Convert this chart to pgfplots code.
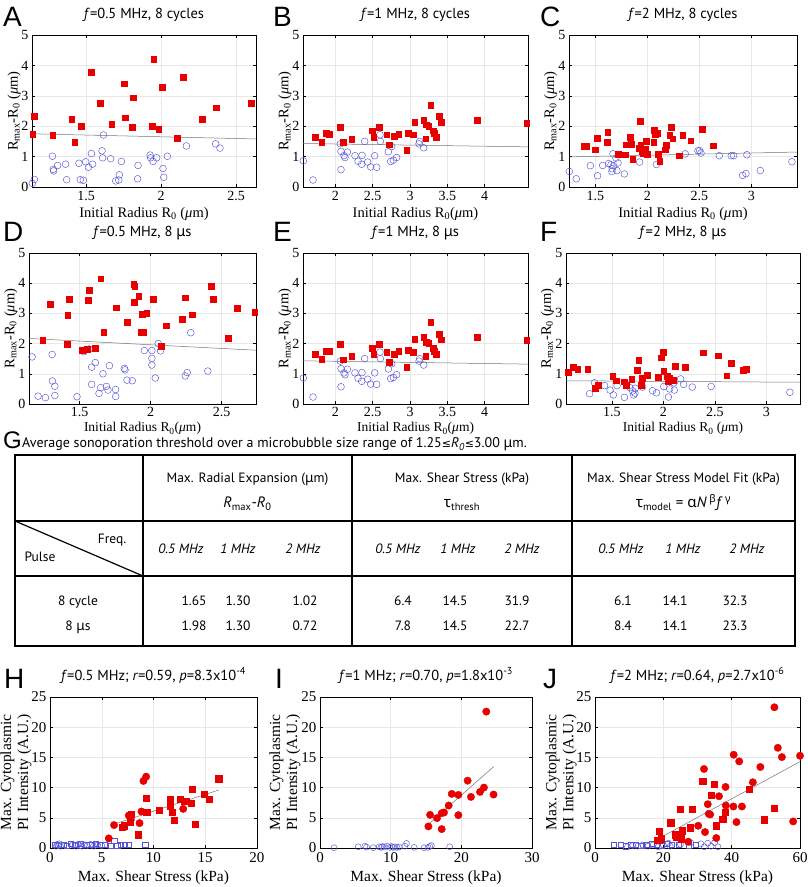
\documentclass[border=0pt]{standalone}
\usepackage{fontspec}
\setmainfont{Liberation Serif}
\newfontfamily\sansf{PT Sans}
\newfontfamily\grk{Noto Sans}
\newfontfamily\dejav{DejaVu Sans}
\newfontfamily\helv{Liberation Sans}
\usepackage{pgfplots}
\pgfplotsset{compat=1.18}
\definecolor{mred}{RGB}{232,0,0}
\definecolor{mblue}{RGB}{85,85,215}
\pgfplotsset{
 baseax/.style={scale only axis, anchor=south west, clip=false,
   axis line style={line width=0.5pt, black},
   grid=major, grid style={black!9, line width=0.4pt},
   tick align=inside, major tick length=3pt, tick style={line width=0.4pt, black},
   /pgf/number format/assume math mode=true,
   title style={at={(axis description cs:0.5,1)}, anchor=base, yshift=11pt},
 },
 topax/.style={baseax, ymin=0, ymax=5, ytick={0,1,2,3,4,5},
   ticklabel style={font=\fontsize{14}{14}\selectfont},
   xticklabel style={yshift=-1pt},
   label style={font=\fontsize{14.5}{14.5}\selectfont},
   title style={font=\sansf\fontsize{14.5}{15}\selectfont},
   ylabel={R\textsubscript{max}-R\textsubscript{0} (\textit{μ}m)},
   y label style={at={(axis description cs:-0.08,0.5)}, anchor=center},
   x label style={at={(axis description cs:0.5,-0.18)}, anchor=center},
 },
 midax/.style={topax, xticklabel style={yshift=1.5pt},
   x label style={at={(axis description cs:0.5,-0.163)}, anchor=center, font=\fontsize{13.5}{13.5}\selectfont}},
 botax/.style={baseax, ymin=0, ymax=25, ytick={0,5,10,15,20,25},
   ticklabel style={font=\fontsize{15}{15}\selectfont},
   xticklabel style={yshift=-1pt},
   label style={font=\fontsize{15.5}{17}\selectfont},
   title style={font=\sansf\fontsize{14.5}{15}\selectfont},
   ylabel={Max. Cytoplasmic\\PI Intensity (A.U.)},
   y label style={align=center, at={(axis description cs:-0.165,0.5)}, anchor=center},
   xlabel={Max. Shear Stress (kPa)},
   x label style={at={(axis description cs:0.5,-0.195)}, anchor=center},
 },
 redsq/.style={only marks, mark=square*, mark size=2.9pt, mark options={draw=mred, fill=mred}},
 bluec/.style={only marks, mark=o, mark size=3.4pt, mark options={draw=mblue, line width=0.45pt}},
 redc2/.style={only marks, mark=*, mark size=3.7pt, mark options={draw=mred, fill=mred}},
 redsq2/.style={only marks, mark=square*, mark size=3.1pt, mark options={draw=mred, fill=mred}},
 bluec2/.style={only marks, mark=o, mark size=3pt, mark options={draw=mblue, line width=0.45pt}},
 bluesq2/.style={only marks, mark=square, mark size=2.6pt, mark options={draw=mblue, line width=0.45pt}},
 fitl/.style={no marks, color=black!55, line width=0.5pt},
}
\begin{document}
\begin{tikzpicture}
\useasboundingbox (0pt,0pt) rectangle (807pt,887pt);
% ---------------- A
\begin{axis}[topax, at={(32pt,700pt)}, width=224pt, height=152pt, xmin=1.14, xmax=2.633, xtick={1.5,2,2.5},
  title={\textit{f}=0.5 MHz, 8 cycles}, xlabel={Initial Radius R\textsubscript{0} (\textit{μ}m)}]
\addplot[fitl] coordinates {(1.14,1.75)(2.633,1.58)};
\addplot[bluec] coordinates {(1.142,0.12)(1.156,0.25)(1.276,1.01)(1.282,0.58)(1.284,0.53)(1.311,0.71)(1.364,0.75)(1.371,0.24)(1.453,0.78)(1.462,0.24)(1.482,0.22)(1.498,0.83)(1.516,0.65)(1.536,1.10)(1.544,0.75)(1.616,1.71)(1.607,1.19)(1.611,0.96)(1.664,0.93)(1.698,0.20)(1.718,0.23)(1.722,0.40)(1.736,0.84)(1.847,0.71)(1.844,0.27)(1.927,1.05)(1.931,0.96)(1.947,0.84)(1.971,0.96)(2.013,0.61)(2.018,0.32)(2.042,1.01)(2.169,1.35)(2.364,1.42)(2.393,1.28)};
\addplot[redsq] coordinates {(1.145,1.73)(1.156,2.32)(1.278,1.70)(1.404,2.24)(1.424,1.47)(1.467,2.01)(1.536,3.77)(1.593,2.75)(1.671,2.06)(1.756,3.40)(1.762,2.28)(1.813,2.94)(1.809,1.96)(1.951,4.21)(1.942,2.01)(2.007,3.29)(1.984,1.91)(2.107,1.60)(2.147,3.60)(2.276,2.23)(2.369,2.61)(2.602,2.75)};
\end{axis}
% ---------------- B
\begin{axis}[topax, at={(303pt,700pt)}, width=225pt, height=152pt, xmin=1.567, xmax=4.58, xtick={2,2.5,3,3.5,4},
  title={\textit{f}=1 MHz, 8 cycles}, xlabel={Initial Radius R\textsubscript{0}(\textit{μ}m)}]
\addplot[fitl] coordinates {(1.567,1.43)(4.58,1.32)};
\addplot[bluec] coordinates {(1.571,0.86)(1.701,0.23)(2.067,1.42)(2.076,1.17)(2.076,0.57)(2.116,1.03)(2.129,0.97)(2.161,1.15)(2.263,1.03)(2.304,0.85)(2.357,1.04)(2.353,0.75)(2.393,1.50)(2.433,0.82)(2.473,0.66)(2.527,1.03)(2.554,0.65)(2.598,1.72)(2.603,1.50)(2.710,1.16)(2.754,1.33)(2.741,0.84)(2.777,0.88)(2.821,0.97)(3.121,1.42)(3.129,1.50)(3.183,1.29)};
\addplot[redsq] coordinates {(1.732,1.65)(1.817,1.48)(1.875,1.76)(1.920,1.74)(2.063,1.98)(2.107,1.47)(2.219,1.58)(2.496,1.85)(2.513,1.64)(2.585,1.98)(2.688,1.72)(2.723,1.39)(2.786,1.66)(2.848,1.74)(2.955,1.21)(2.973,1.77)(3.045,1.72)(3.063,2.14)(3.183,2.21)(3.210,1.59)(3.219,2.05)(3.250,2.01)(3.313,1.85)(3.326,1.76)(3.348,1.65)(3.277,2.70)(3.393,2.32)(3.415,2.13)(3.897,2.20)(4.563,2.10)};
\end{axis}
% ---------------- C
\begin{axis}[topax, at={(569pt,700pt)}, width=228pt, height=152pt, xmin=1.247, xmax=3.44, xtick={1.5,2,2.5,3},
  title={\textit{f}=2 MHz, 8 cycles}, xlabel={Initial Radius R\textsubscript{0} (\textit{μ}m)}]
\addplot[fitl] coordinates {(1.247,0.99)(3.44,1.15)};
\addplot[bluec] coordinates {(1.250,0.51)(1.317,0.27)(1.452,0.70)(1.522,0.37)(1.571,0.71)(1.628,0.77)(1.651,0.73)(1.663,0.60)(1.660,0.51)(1.676,0.70)(1.699,0.95)(1.718,0.79)(1.708,0.54)(1.670,1.09)(1.779,0.43)(1.926,0.82)(2.087,0.74)(2.365,1.09)(2.487,1.19)(2.503,1.20)(2.516,1.12)(2.692,1.03)(2.808,1.03)(2.830,1.03)(2.958,1.06)(2.917,0.38)(2.949,0.44)(3.087,0.54)(3.391,0.83)};
\addplot[redsq] coordinates {(1.388,1.33)(1.413,1.33)(1.500,1.23)(1.516,1.60)(1.612,1.48)(1.619,1.81)(1.724,1.09)(1.788,1.06)(1.798,1.39)(1.837,1.64)(1.846,1.41)(1.859,0.92)(1.929,2.16)(1.926,1.28)(1.936,1.37)(1.949,1.17)(1.958,1.12)(1.981,1.25)(1.990,1.51)(1.997,1.09)(2.061,1.47)(2.064,1.88)(2.074,1.74)(2.099,1.77)(2.106,1.09)(2.119,0.86)(2.173,1.23)(2.183,1.37)(2.215,1.70)(2.228,1.96)(2.244,1.59)(2.308,1.03)(2.340,1.70)(2.417,1.52)(2.526,1.91)(2.631,1.36)};
\end{axis}
% ---------------- D
\begin{axis}[midax, at={(29pt,483pt)}, width=227pt, height=151pt, xmin=1.144, xmax=2.742, xtick={1.5,2,2.5},
  title={\textit{f}=0.5 MHz, 8 {\grk μ}s}, xlabel={Initial Radius R\textsubscript{0}(\textit{μ}m)}]
\addplot[fitl] coordinates {(1.144,2.17)(2.742,1.78)};
\addplot[bluec] coordinates {(1.166,1.56)(1.208,0.26)(1.260,0.21)(1.307,1.64)(1.309,0.76)(1.326,0.59)(1.326,0.28)(1.482,0.24)(1.532,1.73)(1.567,1.82)(1.585,1.22)(1.585,0.65)(1.611,1.37)(1.637,0.35)(1.649,0.54)(1.665,1.00)(1.689,0.58)(1.700,0.46)(1.710,1.27)(1.754,0.48)(1.754,0.25)(1.815,1.18)(1.820,1.13)(1.834,0.79)(1.871,0.77)(1.956,1.77)(2.009,1.77)(2.009,1.51)(2.009,1.29)(2.033,0.86)(2.054,2.00)(2.070,1.76)(2.244,0.93)(2.258,1.04)(2.283,2.36)(2.403,1.09)};
\addplot[redsq] coordinates {(1.241,2.10)(1.295,3.30)(1.415,1.99)(1.417,2.95)(1.426,3.46)(1.518,1.77)(1.553,1.82)(1.562,3.44)(1.567,3.78)(1.609,1.85)(1.649,4.15)(1.670,2.39)(1.759,3.19)(1.836,2.70)(1.881,3.96)(1.888,3.89)(1.885,3.36)(1.916,3.56)(1.939,2.98)(1.972,3.01)(1.934,2.38)(1.948,2.38)(2.019,3.46)(2.073,1.91)(2.110,2.59)(2.222,2.81)(2.241,3.52)(2.293,2.96)(2.429,3.91)(2.438,3.46)(2.548,2.18)(2.609,3.18)(2.733,3.04)};
\end{axis}
% ---------------- E
\begin{axis}[midax, at={(303pt,483pt)}, width=225pt, height=151pt, xmin=1.567, xmax=4.58, xtick={2,2.5,3,3.5,4},
  title={\textit{f}=1 MHz, 8 {\grk μ}s}, xlabel={Initial Radius R\textsubscript{0}(\textit{μ}m)}]
\addplot[fitl] coordinates {(1.567,1.43)(4.58,1.32)};
\addplot[bluec] coordinates {(1.571,0.86)(1.701,0.23)(2.067,1.42)(2.076,1.17)(2.076,0.57)(2.116,1.03)(2.129,0.97)(2.161,1.15)(2.263,1.03)(2.304,0.85)(2.357,1.04)(2.353,0.75)(2.393,1.50)(2.433,0.82)(2.473,0.66)(2.527,1.03)(2.554,0.65)(2.598,1.72)(2.603,1.50)(2.710,1.16)(2.754,1.33)(2.741,0.84)(2.777,0.88)(2.821,0.97)(3.121,1.42)(3.129,1.50)(3.183,1.29)};
\addplot[redsq] coordinates {(1.732,1.65)(1.817,1.48)(1.875,1.76)(1.920,1.74)(2.063,1.98)(2.107,1.47)(2.219,1.58)(2.496,1.85)(2.513,1.64)(2.585,1.98)(2.688,1.72)(2.723,1.39)(2.786,1.66)(2.848,1.74)(2.955,1.21)(2.973,1.77)(3.045,1.72)(3.063,2.14)(3.183,2.21)(3.210,1.59)(3.219,2.05)(3.250,2.01)(3.313,1.85)(3.326,1.76)(3.348,1.65)(3.277,2.70)(3.393,2.32)(3.415,2.13)(3.897,2.20)(4.563,2.10)};
\end{axis}
% ---------------- F
\begin{axis}[midax, at={(566pt,483pt)}, width=234pt, height=151pt, xmin=1.054, xmax=3.326, xtick={1.5,2,2.5,3},
  title={\textit{f}=2 MHz, 8 {\grk μ}s}, xlabel={Initial Radius R\textsubscript{0} (\textit{μ}m)}]
\addplot[fitl] coordinates {(1.054,0.77)(3.326,0.72)};
\addplot[bluec] coordinates {(1.283,0.34)(1.331,0.70)(1.428,0.61)(1.482,0.46)(1.514,0.30)(1.550,0.61)(1.621,0.22)(1.675,0.54)(1.701,0.43)(1.711,0.30)(1.723,0.36)(1.727,0.52)(1.797,0.56)(1.894,0.44)(1.932,0.37)(2.003,0.58)(2.048,0.23)(2.061,0.50)(2.106,0.46)(2.103,0.70)(2.167,0.83)(2.196,0.65)(2.280,0.56)(2.463,0.58)(3.228,0.39)};
\addplot[redsq] coordinates {(1.074,1.04)(1.122,1.21)(1.167,1.16)(1.264,1.15)(1.334,0.53)(1.367,0.63)(1.508,0.93)(1.540,0.77)(1.621,0.74)(1.637,0.61)(1.691,0.83)(1.749,1.12)(1.759,1.45)(1.785,0.61)(1.794,0.85)(1.846,0.96)(1.949,0.89)(1.981,1.53)(1.994,1.72)(2.003,1.09)(2.039,0.93)(2.048,0.74)(2.055,0.85)(2.064,0.79)(2.100,0.80)(2.113,1.26)(2.212,1.21)(2.383,1.70)(2.534,1.60)(2.614,0.94)(2.659,1.34)(2.778,1.12)(2.804,1.16)};
\end{axis}
% ---------------- H
\begin{axis}[botax, at={(50pt,39pt)}, width=207pt, height=151pt, xmin=0, xmax=20, xtick={0,5,10,15,20},
  title={\textit{f}=0.5 MHz; \textit{r}=0.59, \textit{p}=8.3x10\textsuperscript{-4}}]
\addplot[bluesq2] coordinates {(0.5,0.5)(1.3,0.6)(1.6,0.4)(2.0,0.7)(2.4,0.6)(3.0,0.7)(3.5,0.6)(4.0,0.5)(4.4,0.7)(4.8,0.6)(5.3,0.5)(5.9,0.4)(6.2,1.2)(6.5,0.4)(6.8,0.6)(7.2,0.6)(7.6,0.5)(9.2,0.6)};
\addplot[bluec2] coordinates {(0.6,0.3)(0.7,0.6)(0.8,0.4)(0.9,0.7)(1.0,0.3)(1.1,0.5)(2.2,0.5)(2.5,0.3)(2.7,0.6)(2.9,0.4)(3.1,0.3)(3.3,0.5)(3.6,0.4)(3.9,0.6)(4.2,0.3)(4.6,0.5)(5.0,0.4)};
\addplot[fitl] coordinates {(5.9,3.8)(16.3,9.6)};
\addplot[redsq2] coordinates {(6.97,3.41)(7.16,3.68)(7.81,5.60)(7.77,4.34)(8.55,2.20)(9.29,8.24)(10.58,6.21)(11.58,6.98)(11.65,8.02)(11.81,5.93)(11.97,4.56)(12.58,8.08)(13.0,7.69)(13.16,7.69)(13.61,7.42)(13.77,9.78)(14.0,3.90)(14.87,8.96)(15.35,8.08)(16.29,11.48)(9.35,5.99)};
\addplot[redc2] coordinates {(5.68,1.59)(6.19,3.79)(7.61,5.38)(7.81,4.67)(8.65,4.12)(8.84,6.04)(9.03,11.10)(9.29,11.81)(12.87,6.48)};
\end{axis}
% ---------------- I
\begin{axis}[botax, at={(320pt,39pt)}, width=212pt, height=151pt, xmin=0, xmax=30, xtick={0,10,20,30},
  title={\textit{f}=1 MHz; \textit{r}=0.70, \textit{p}=1.8x10\textsuperscript{-3}}]
\addplot[bluec2] coordinates {(1.98,0.05)(5.41,0.2)(6.35,0.3)(6.59,0.15)(7.53,0.05)(8.38,0.2)(8.61,0.1)(8.85,0.25)(9.08,0.15)(9.5,0.3)(9.88,0.1)(10.12,0.25)(10.35,0.1)(10.59,0.2)(10.9,0.1)(11.2,0.15)(12.0,0.3)(12.24,0.75)(13.32,0.1)(14.73,0.05)(15.29,0.1)(15.53,0.25)(15.76,0.4)(18.35,0.2)};
\addplot[fitl] coordinates {(15.5,4.1)(24.6,13.5)};
\addplot[redc2] coordinates {(15.34,3.57)(15.58,5.49)(16.56,4.95)(17.22,3.13)(17.22,5.77)(17.55,5.88)(18.21,7.03)(18.64,8.96)(19.58,8.79)(19.58,5.44)(20.89,11.15)(21.36,8.46)(22.64,9.29)(23.2,10.0)(23.53,22.58)(24.56,8.85)};
\end{axis}
% ---------------- J
\begin{axis}[botax, at={(595pt,39pt)}, width=205pt, height=151pt, xmin=0, xmax=60, xtick={0,20,40,60},
  title={\textit{f}=2 MHz; \textit{r}=0.64, \textit{p}=2.7x10\textsuperscript{-6}}]
\addplot[bluesq2] coordinates {(5.5,0.6)(7.5,0.5)(9,0.3)(10.5,0.6)(12,0.5)(13.5,0.4)(15,0.6)(16.5,0.7)(18,0.5)(19.5,0.4)(21,0.7)(22.5,0.6)(24.5,0.5)(27.5,0.4)(29.5,0.5)};
\addplot[bluec2] coordinates {(9.5,0.2)(11,0.4)(12.5,0.3)(14,0.5)(15.5,0.3)(17,0.5)(18.5,0.2)(20,0.5)(21.5,0.8)(22,0.3)(25,0.6)(28,0.9)(31,0.7)(32,0.2)(33,0.8)(34,0.3)(35,0.9)(36,0.2)};
\addplot[fitl] coordinates {(18.1,1.4)(60,14.3)};
\addplot[redsq2] coordinates {(18.33,1.26)(18.73,2.75)(19.31,1.54)(22.16,4.18)(23.5,2.2)(23.9,1.8)(25.0,6.48)(25.2,1.54)(25.6,2.86)(27.8,3.35)(28.5,6.48)(31.5,11.04)(34.9,10.55)(34.0,8.79)(35.4,3.68)(37.4,4.73)(38.2,5.88)(45.2,9.67)(49.6,4.67)(52.5,6.59)};
\addplot[redc2] coordinates {(27.3,1.04)(30.2,3.68)(32.2,2.64)(31.9,13.08)(33.0,7.25)(33.3,5.66)(33.7,5.55)(35.5,1.65)(36.3,8.57)(38.2,10.11)(38.3,7.03)(40.6,15.44)(40.5,6.87)(41.4,4.29)(42.2,14.34)(43.0,6.87)(46.2,10.88)(48.4,13.41)(52.5,23.3)(53.5,16.59)(54.7,15.05)(58.0,4.40)(60.0,15.27)};
\end{axis}
% ---------------- panel letters
\begin{scope}[every node/.style={inner sep=0pt, anchor=north west, font=\helv\fontsize{28}{28}\selectfont}]
\node at (3pt,880pt) {A};
\node at (273pt,880pt) {B};
\node at (540pt,880pt) {C};
\node at (3pt,665pt) {D};
\node at (273pt,665pt) {E};
\node at (540pt,665pt) {F};
\node at (4pt,218pt) {H};
\node at (275pt,218pt) {I};
\node at (543pt,218pt) {J};
\end{scope}
\node[inner sep=0pt, anchor=north west, font=\helv\fontsize{24}{24}\selectfont] at (3pt,455pt) {G};
\node[inner sep=0pt, anchor=base west, font=\sansf\fontsize{14}{14}\selectfont] at (22pt,439pt)
  {Average sonoporation threshold over a microbubble size range of 1.25{\dejav\fontsize{11}{11}\selectfont ≤}\textit{R}\textsubscript{\textit{0}}{\dejav\fontsize{11}{11}\selectfont ≤}3.00 {\grk μ}m.};
% ---------------- table G
\begin{scope}[line width=1.2pt]
\draw (15pt,241pt) rectangle (795pt,432pt);
\draw (15pt,366pt) -- (795pt,366pt);
\draw (15pt,311pt) -- (795pt,311pt);
\draw (143pt,241pt) -- (143pt,432pt);
\draw (352pt,241pt) -- (352pt,432pt);
\draw (572pt,241pt) -- (572pt,432pt);
\draw (15pt,366pt) -- (143pt,311pt);
\end{scope}
\begin{scope}[every node/.style={inner sep=0pt, anchor=base, font=\sansf\fontsize{13.5}{14}\selectfont}]
\node at (247.5pt,404pt) {Max. Radial Expansion ({\grk μ}m)};
\node at (462pt,404pt) {Max. Shear Stress (kPa)};
\node at (683.5pt,404pt) {Max. Shear Stress Model Fit (kPa)};
\node[font=\sansf\fontsize{15}{15}\selectfont] at (247.5pt,379pt) {\textit{R}\textsubscript{max}-\textit{R}\textsubscript{0}};
\node[font=\sansf\fontsize{15}{15}\selectfont] at (462pt,379pt) {{\grk τ}\textsubscript{thresh}};
\node[font=\sansf\fontsize{15}{15}\selectfont] at (683.5pt,379pt) {{\grk τ}\textsubscript{model} = {\grk α}\textit{N}\,\textsuperscript{\grk β}\textit{f}\,\textsuperscript{\grk γ}};
\node at (112pt,343pt) {Freq.};
\node at (40pt,325pt) {Pulse};
\node at (181pt,333pt) {\textit{0.5 MHz}};
\node at (238pt,333pt) {\textit{1 MHz}};
\node at (303pt,333pt) {\textit{2 MHz}};
\node at (398pt,333pt) {\textit{0.5 MHz}};
\node at (458pt,333pt) {\textit{1 MHz}};
\node at (522pt,333pt) {\textit{2 MHz}};
\node at (621pt,333pt) {\textit{0.5 MHz}};
\node at (683pt,333pt) {\textit{1 MHz}};
\node at (747pt,333pt) {\textit{2 MHz}};
\node at (78pt,281pt) {8 cycle};
\node at (78pt,256pt) {8 {\grk μ}s};
\node at (194pt,281pt) {1.65};
\node at (238pt,281pt) {1.30};
\node at (305pt,281pt) {1.02};
\node at (403pt,281pt) {6.4};
\node at (455pt,281pt) {14.5};
\node at (517pt,281pt) {31.9};
\node at (623pt,281pt) {6.1};
\node at (675pt,281pt) {14.1};
\node at (735pt,281pt) {32.3};
\node at (194pt,256pt) {1.98};
\node at (238pt,256pt) {1.30};
\node at (305pt,256pt) {0.72};
\node at (403pt,256pt) {7.8};
\node at (455pt,256pt) {14.5};
\node at (517pt,256pt) {22.7};
\node at (623pt,256pt) {8.4};
\node at (675pt,256pt) {14.1};
\node at (735pt,256pt) {23.3};
\end{scope}
\end{tikzpicture}
\end{document}
